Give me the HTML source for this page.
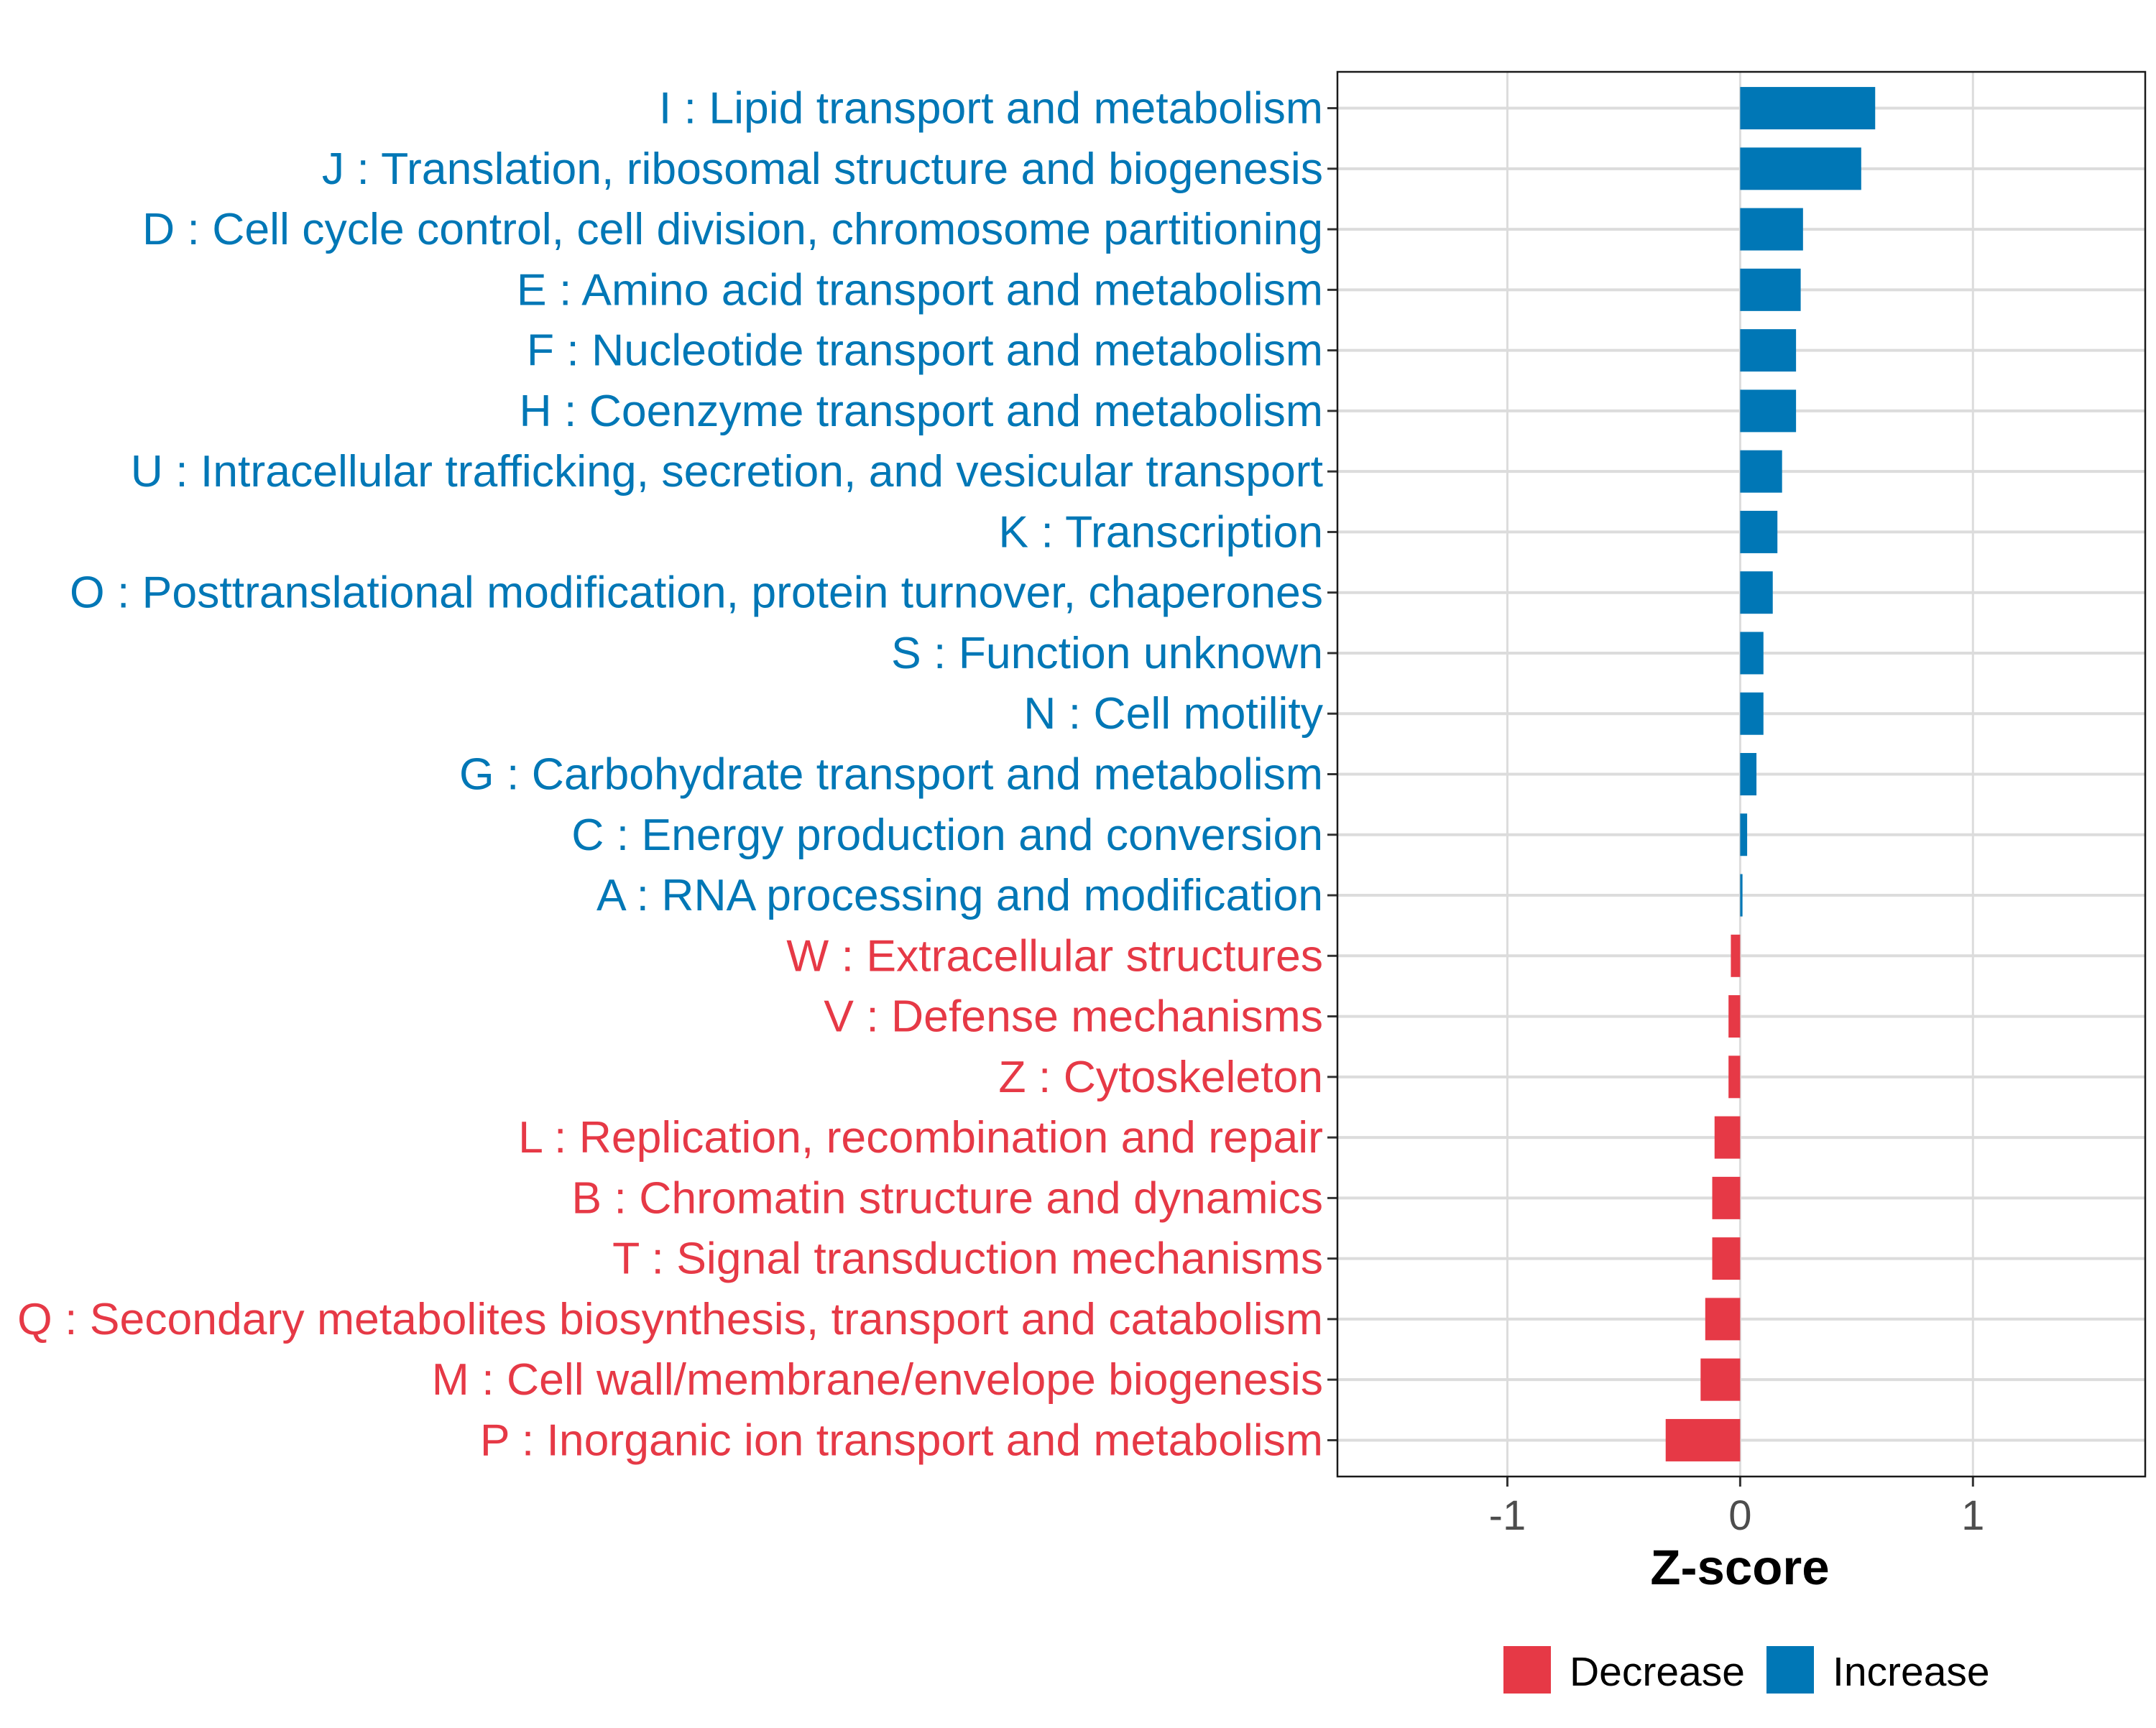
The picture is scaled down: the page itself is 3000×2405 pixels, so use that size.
<!DOCTYPE html>
<html><head><meta charset="utf-8"><style>
html,body{margin:0;padding:0;background:#fff;}
svg text{font-family:"Liberation Sans",Arial,sans-serif;}
</style></head><body>
<svg id="chart" width="3000" height="2400" xmlns="http://www.w3.org/2000/svg">
<g id="grid"></g>
<g id="bars"></g>
<g id="ylabels"></g>
<g id="xaxis"></g>
<rect x="1861" y="100" width="1124" height="1955" fill="none" stroke="#1a1a1a" stroke-width="2.5"/>
<text x="2421" y="2205" font-size="69" font-weight="bold" text-anchor="middle" fill="#000">Z-score</text>
<g>
<rect x="2092" y="2291" width="66" height="66" fill="#E63946"/>
<text x="2184" y="2346" font-size="57" fill="#000">Decrease</text>
<rect x="2458" y="2291" width="66" height="66" fill="#0077B6"/>
<text x="2550" y="2346" font-size="57" fill="#000">Increase</text>
</g>
</svg>
<script>
const categories = ["I : Lipid transport and metabolism","J : Translation, ribosomal structure and biogenesis","D : Cell cycle control, cell division, chromosome partitioning","E : Amino acid transport and metabolism","F : Nucleotide transport and metabolism","H : Coenzyme transport and metabolism","U : Intracellular trafficking, secretion, and vesicular transport","K : Transcription","O : Posttranslational modification, protein turnover, chaperones","S : Function unknown","N : Cell motility","G : Carbohydrate transport and metabolism","C : Energy production and conversion","A : RNA processing and modification","W : Extracellular structures","V : Defense mechanisms","Z : Cytoskeleton","L : Replication, recombination and repair","B : Chromatin structure and dynamics","T : Signal transduction mechanisms","Q : Secondary metabolites biosynthesis, transport and catabolism","M : Cell wall/membrane/envelope biogenesis","P : Inorganic ion transport and metabolism"];
const zscores = [0.58,0.52,0.27,0.26,0.24,0.24,0.18,0.16,0.14,0.10,0.10,0.07,0.03,0.01,-0.04,-0.05,-0.05,-0.11,-0.12,-0.12,-0.15,-0.17,-0.32];
const xTicks = [-1,0,1];
const xTickLabels = ["-1","0","1"];

const NS="http://www.w3.org/2000/svg";
const L=1861,R=2985,T=100,B=2055,xmin=-1.73,xmax=1.74;
const x=v=>L+(v-xmin)/(xmax-xmin)*(R-L);
const n=categories.length, step=(B-T)/(n+0.2), y=i=>T+step*(i+0.6);
const bh=step*0.7;
function mk(tag,attrs,parent){const e=document.createElementNS(NS,tag);for(const k in attrs)e.setAttribute(k,attrs[k]);parent.appendChild(e);return e;}
const grid=document.getElementById('grid'),bars=document.getElementById('bars'),yl=document.getElementById('ylabels'),xa=document.getElementById('xaxis');
xTicks.forEach((t,i)=>{
  const g=mk('line',{x1:x(t),x2:x(t),y1:T,y2:B,stroke:'#dcdcdc','stroke-width':3},grid);
  
  
  const tk=mk('line',{x1:x(t),x2:x(t),y1:B,y2:B+14,stroke:'#333','stroke-width':3},xa);
  
  
  const tl=mk('text',{x:x(t),y:B+74,'font-size':58,'text-anchor':'middle',fill:'#4d4d4d'},xa);
  tl.textContent=xTickLabels[i];
  
  
});
categories.forEach((c,i)=>{
  const cy=y(i), v=zscores[i], col=v>=0?'#0077B6':'#E63946';
  const gl=mk('line',{x1:L,x2:R,y1:cy,y2:cy,stroke:'#dcdcdc','stroke-width':4},grid);
  
  
  const r=mk('rect',{x:Math.min(x(0),x(v)),y:cy-bh/2,width:Math.max(Math.abs(x(v)-x(0)),1.5),height:bh,fill:col},bars);
  
  
  const tk=mk('line',{x1:L-14,x2:L,y1:cy,y2:cy,stroke:'#333','stroke-width':3},yl);
  
  
  const t=mk('text',{x:L-20,y:cy+21,'font-size':62.5,'text-anchor':'end',fill:col},yl);
  t.textContent=c;
  
  
});
</script>
</body></html>
